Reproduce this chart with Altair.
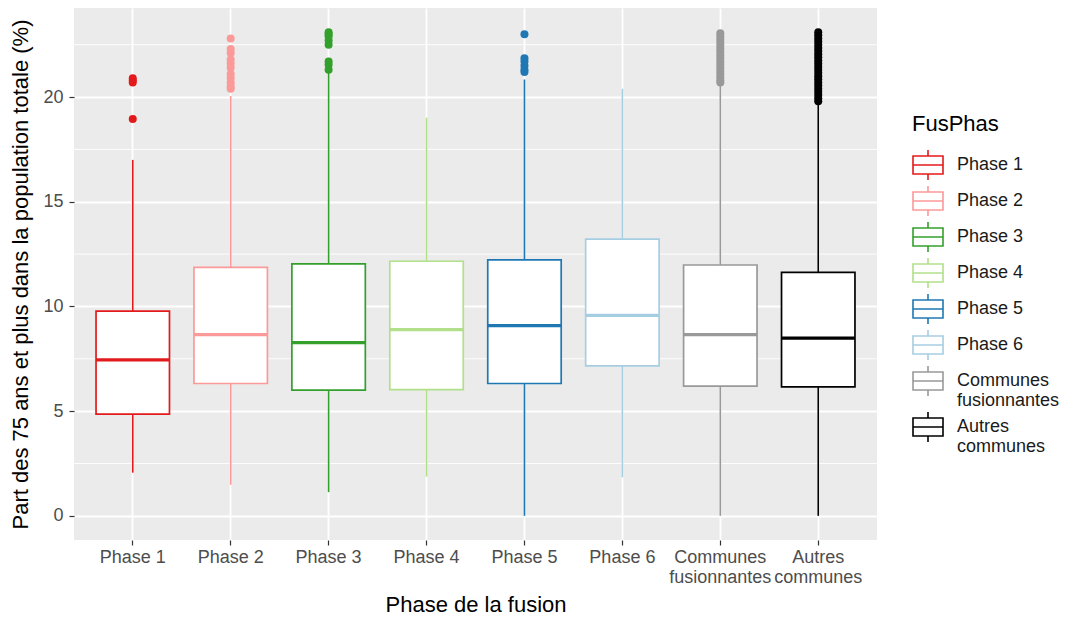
import altair as alt
import pandas as pd

categories = ["Phase 1", "Phase 2", "Phase 3", "Phase 4", "Phase 5", "Phase 6",
              "Communes fusionnantes", "Autres communes"]
colors = ["#E31A1C", "#FB9A99", "#33A02C", "#B2DF8A", "#1F78B4", "#A6CEE3",
          "#999999", "#000000"]

whisker_low = [2.06, 1.48, 1.13, 1.87, 0.0, 1.84, 0.0, 0.0]
q1 = [4.86, 6.32, 6.00, 6.03, 6.32, 7.16, 6.19, 6.16]
median = [7.45, 8.65, 8.27, 8.89, 9.08, 9.57, 8.65, 8.49]
q3 = [9.78, 11.87, 12.03, 12.16, 12.22, 13.22, 11.98, 11.63]
whisker_high = [17.0, 20.05, 21.16, 19.02, 20.84, 20.40, 20.62, 19.70]

outliers_phase1 = [20.9, 20.8, 20.7, 18.95]
outliers_phase2 = [22.8, 22.3, 22.1, 21.8, 21.6, 21.4, 21.1, 20.9, 20.7, 20.5, 20.4]
outliers_phase3 = [23.1, 23.0, 22.9, 22.7, 22.5, 21.7, 21.55, 21.3]
outliers_phase4 = []
outliers_phase5 = [23.0, 21.85, 21.7, 21.5, 21.3, 21.2]
outliers_phase6 = []
outliers_fusionnantes = [23.05, 22.9, 22.75, 22.6, 22.45, 22.3, 22.15, 22.0, 21.85,
                         21.7, 21.55, 21.4, 21.25, 21.1, 20.95, 20.8, 20.7]
outliers_autres = [23.1, 22.95, 22.8, 22.65, 22.5, 22.35, 22.2, 22.05, 21.9, 21.75,
                   21.6, 21.45, 21.3, 21.15, 21.0, 20.85, 20.7, 20.55, 20.4, 20.25,
                   20.1, 19.95, 19.8]
outlier_lists = [outliers_phase1, outliers_phase2, outliers_phase3, outliers_phase4,
                 outliers_phase5, outliers_phase6, outliers_fusionnantes, outliers_autres]

minor_grid = [2.5, 7.5, 12.5, 17.5, 22.5]
y_ticks = [0, 5, 10, 15, 20]

stats = pd.DataFrame({
    "cat": categories, "FusPhas": categories, "lower": whisker_low, "q1": q1,
    "median": median, "q3": q3, "upper": whisker_high,
})
outliers = pd.DataFrame(
    [(c, v) for c, vals in zip(categories, outlier_lists) for v in vals],
    columns=["cat", "value"],
)

FONT = "Liberation Sans"
YTITLE = "Part des 75 ans et plus dans la population totale (%)"
XTITLE = "Phase de la fusion"
MULTILINE = "indexof(datum.label, 'Phase') == 0 ? datum.label : split(datum.label, ' ')"

y_scale = alt.Scale(domain=[-1.155, 24.255], nice=False, zero=False)
x_scale = alt.Scale(domain=categories, paddingInner=0, paddingOuter=0.1)

y_axis = alt.Axis(values=y_ticks, grid=True, gridColor="white", gridWidth=1.8,
                  tickSize=5, tickColor="#333333", tickWidth=1.2,
                  labelFontSize=18, labelColor="#4D4D4D", labelPadding=6,
                  titleFontSize=22, titleFontWeight="normal", titleColor="black",
                  titlePadding=10, domain=False)
x_axis = alt.Axis(grid=True, gridColor="white", gridWidth=1.8, labelAngle=0,
                  tickSize=5, tickColor="#333333", tickWidth=1.2,
                  labelFontSize=18, labelColor="#4D4D4D", labelPadding=3,
                  labelLineHeight=20, labelOverlap=False, labelBound=False,
                  labelExpr=MULTILINE,
                  titleFontSize=22, titleFontWeight="normal", titleColor="black",
                  titlePadding=8, domain=False)


def X():
    return alt.X("cat:N", sort=categories, scale=x_scale, axis=x_axis, title=XTITLE)


def Y(field):
    return alt.Y(field, type="quantitative", scale=y_scale, axis=y_axis, title=YTITLE)


# data-driven (sorted) domain so that this scale does not share a domain with the
# legend-bearing stroke scale (otherwise the disabled legend swallows it)
col = alt.Color("cat:N", sort=categories, scale=alt.Scale(range=colors), legend=None)

minor = alt.Chart(pd.DataFrame({"v": minor_grid})).mark_rule(
    color="white", strokeWidth=0.9).encode(y=Y("v"))

base = alt.Chart(stats)
wlow = base.mark_rule(strokeWidth=1.6).encode(x=X(), y=Y("lower"), y2="q1", color=col)
whigh = base.mark_rule(strokeWidth=1.6).encode(x=X(), y=Y("q3"), y2="upper", color=col)

legend = alt.Legend(
    title="FusPhas", orient="none", legendX=838, legendY=106,
    titleFontSize=22, titleFontWeight="normal", titleColor="black", titleFont=FONT,
    titlePadding=13, labelFontSize=18, labelColor="#1A1A1A", labelFont=FONT,
    labelLimit=300, labelOffset=13, rowPadding=-2,
    labelExpr=MULTILINE,
    symbolType="M-1,-0.6H1V0.6H-1Z M-1,0H1 M0,-1V-0.6 M0,0.6V1",
    symbolSize=900, symbolStrokeWidth=1.6, symbolFillColor="white",
)
box = base.mark_bar(fill="white", strokeWidth=1.7, opacity=1,
                    width=alt.RelativeBandSize(0.75)).encode(
    x=X(), y=Y("q1"), y2="q3",
    stroke=alt.Stroke("FusPhas:N", scale=alt.Scale(domain=categories, range=colors),
                      legend=legend))
med = base.mark_tick(thickness=3.2, size=73.4, opacity=1).encode(
    x=X(), y=Y("median"), color=col)
pts = alt.Chart(outliers).mark_circle(size=64, opacity=1).encode(
    x=X(), y=Y("value"), color=col)

chart = alt.layer(minor, wlow, whigh, box, med, pts).properties(
    width=803, height=532,
    autosize=alt.AutoSizeParams(type="none"),
    padding={"left": 66, "top": 0, "right": 186, "bottom": 80},
).configure(
    font=FONT,
    view=alt.ViewConfig(fill="#EBEBEB", stroke="transparent", strokeWidth=0),
).configure_axis(labelFont=FONT, titleFont=FONT)

chart.save("out.html", embed_options={"renderer": "svg", "actions": False})
